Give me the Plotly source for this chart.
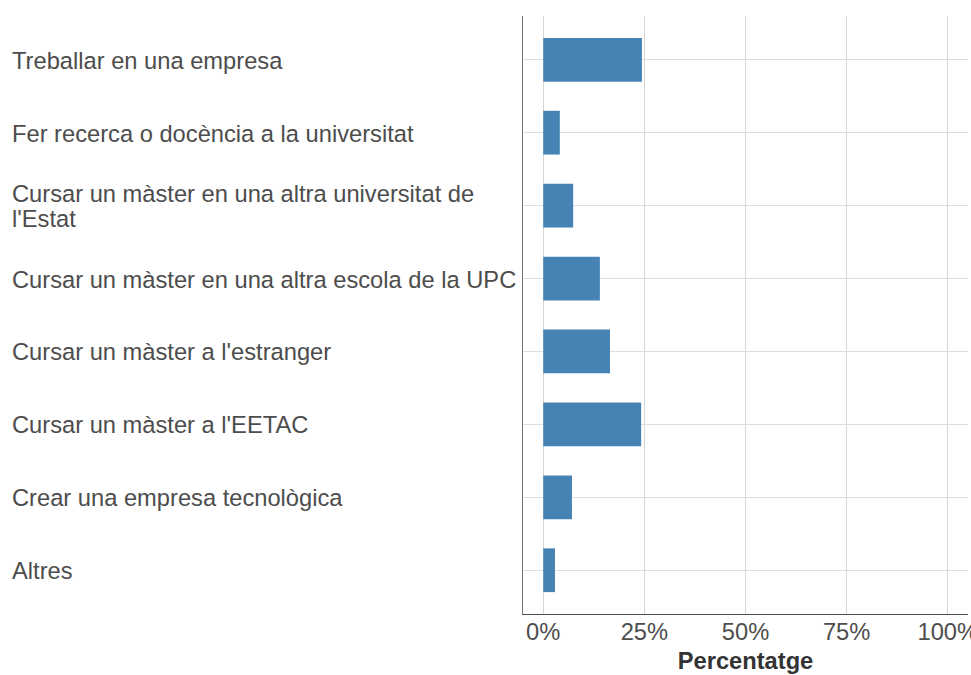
import plotly.graph_objects as go

categories = [
    "Treballar en una empresa",
    "Fer recerca o docència a la universitat",
    "Cursar un màster en una altra universitat de<br>l'Estat",
    "Cursar un màster en una altra escola de la UPC",
    "Cursar un màster a l'estranger",
    "Cursar un màster a l'EETAC",
    "Crear una empresa tecnològica",
    "Altres",
]
values = [24.4, 4.1, 7.4, 14.0, 16.5, 24.2, 7.1, 2.9]
x_ticks = [0, 25, 50, 75, 100]
x_ticklabels = ["0%", "25%", "50%", "75%", "100%"]
x_title = "Percentatge"

FONT = "Liberation Sans"
FS = 23.7
W, H = 971, 675
L, R, T, B = 523, 3, 16, 61

fig = go.Figure(go.Bar(
    x=values, y=categories, orientation="h",
    marker=dict(color="#4682B4", line=dict(width=0)),
    width=0.6,
))

fig.update_layout(
    width=W, height=H,
    margin=dict(l=L, r=R, t=T, b=B, pad=0, autoexpand=False),
    plot_bgcolor="white", paper_bgcolor="white",
    showlegend=False,
    font=dict(family=FONT, size=FS, color="#4d4d4d"),
)
fig.update_xaxes(
    range=[-5, 105], tickvals=x_ticks, ticktext=x_ticklabels,
    showgrid=True, gridcolor="#d6d6d6", gridwidth=1,
    showline=True, linecolor="#4d4d4d", linewidth=1.3,
    ticks="", zeroline=False, automargin=False,
    ticklabeloverflow="allow", ticklabelstandoff=-4,
    tickfont=dict(family=FONT, size=FS, color="#4d4d4d"),
    title=dict(text="<b>" + x_title + "</b>",
               font=dict(family=FONT, size=FS, color="#333333"), standoff=8),
)
fig.update_yaxes(
    range=[len(categories) - 0.4, -0.6],
    showgrid=True, gridcolor="#dedede", gridwidth=1,
    showline=True, linecolor="#777777", linewidth=1.3,
    ticks="", showticklabels=False, zeroline=False, automargin=False,
)

# left-aligned category labels
plot_w = W - L - R
x_paper = -(L - 10) / plot_w
line_gap = 25
for cat in categories:
    parts = cat.split("<br>")
    n = len(parts)
    for i, p in enumerate(parts):
        shift = ((n - 1) / 2 - i) * line_gap
        fig.add_annotation(
            x=x_paper, xref="paper", y=cat, yref="y",
            text=p, showarrow=False, xanchor="left", yanchor="middle",
            align="left", yshift=shift - 1,
            font=dict(family=FONT, size=FS, color="#4d4d4d"),
        )

fig.write_html(
    "out.html",
    config={"displayModeBar": False},
    post_script="document.body.style.margin='0';document.body.style.overflow='hidden';",
)
